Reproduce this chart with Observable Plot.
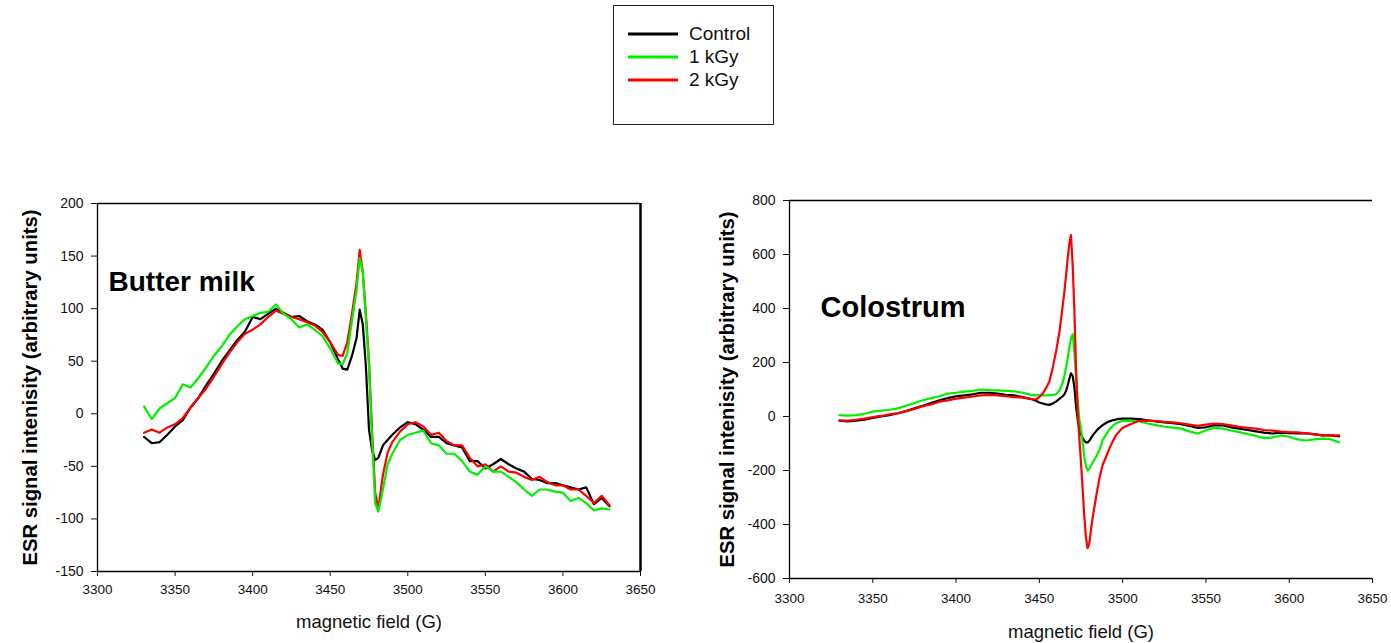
<!DOCTYPE html>
<html><head><meta charset="utf-8">
<script src="https://cdn.jsdelivr.net/npm/d3@7"></script>
<script src="https://cdn.jsdelivr.net/npm/@observablehq/plot@0.6"></script>
<style>
body{margin:0;background:#fff;width:1391px;height:643px;position:relative;overflow:hidden;font-family:"Liberation Sans",Arial,sans-serif;}
#legend{position:absolute;left:613px;top:5px;width:161px;height:120px;border:1px solid #222;box-sizing:border-box;}
.row{position:absolute;left:14px;height:20px;display:flex;align-items:center;font-size:19px;color:#111;}
.row svg{margin-right:11px;}
#left{position:absolute;left:0;top:190px;}
#right{position:absolute;left:700px;top:190px;}
</style></head><body>
<div id="legend"></div>
<div id="left"></div>
<div id="right"></div>
<script>
// ---- series names / colours ----
const seriesNames = ["Control", "1 kGy", "2 kGy"];
const seriesColors = ["#000000", "#00f000", "#ff0000"];

// ---- tick labels ----
const xTicks = [3300, 3350, 3400, 3450, 3500, 3550, 3600, 3650];
const yTicksButter = [-150, -100, -50, 0, 50, 100, 150, 200];
const yTicksColostrum = [-600, -400, -200, 0, 200, 400, 600, 800];
const xTitle = "magnetic field (G)";
const yTitle = "ESR signal intenisity (arbitrary units)";

// ---- Butter milk ----
const fieldButter = [3330,3335,3340,3345,3350,3355,3360,3365,3370,3375,3380,3385,3390,3395,3400,3405,3410,3415,3420,3425,3430,3435,3440,3445,3450,3455,
  3458,3461,3464,3467,3469,3471,3473,3475,3477,3479,3481,3484,3487,
  3490,3495,3500,3505,3510,3515,3520,3525,3530,3535,3540,3545,3550,3555,3560,3565,3570,3575,3580,3585,3590,3595,3600,3605,3610,3615,3620,3625,3630];
const butterControl = [-22,-28,-27,-20,-12,-6,6,15,27,38,50,60,70,78,92,90,95,100,96,92,93,88,85,80,68,52,
  43,42,55,72,99,85,45,-15,-35,-44,-42,-30,-25,
  -20,-13,-8,-10,-15,-22,-22,-28,-30,-32,-45,-45,-52,-48,-43,-48,-52,-55,-62,-63,-66,-66,-68,-70,-72,-70,-86,-80,-88];
const butter1kGy = [7,-5,5,10,15,28,25,34,44,55,64,75,83,90,93,96,97,104,95,90,82,85,80,74,62,48,
  47,58,88,118,148,135,90,45,-25,-85,-93,-72,-48,
  -38,-25,-20,-18,-16,-28,-30,-38,-38,-45,-55,-58,-50,-55,-55,-60,-65,-72,-78,-72,-72,-74,-75,-83,-80,-85,-92,-90,-91];
const butter2kGy = [-18,-15,-18,-13,-10,-4,6,15,24,35,47,58,68,76,80,85,92,98,95,92,90,87,84,78,68,56,
  55,68,95,125,156,135,95,50,-17,-75,-90,-58,-37,
  -27,-17,-10,-8,-12,-20,-18,-26,-30,-30,-42,-50,-48,-55,-50,-55,-56,-60,-63,-60,-65,-68,-68,-72,-72,-78,-85,-78,-87];

// ---- Colostrum ----
const fieldColostrum = [3330,3335,3340,3345,3350,3355,3360,3365,3370,3375,3380,3385,3390,3395,3400,3405,3410,3415,3420,3425,3430,3435,3440,3445,
  3448,3450,3452,3454,3456,3458,3460,3462,3464,
  3465,3466,3467,3468,3469,3470,3471,3472,3473,3474,3475,3476,3477,3478,3479,3480,3481,3482,
  3484,3486,3488,3490,3492,3494,3496,3498,3500,
  3505,3510,3515,3520,3525,3530,3535,3540,3545,3550,3555,3560,3565,3570,3575,3580,3585,3590,3595,3600,3605,3610,3615,3620,3625,3630];
const colostrumControl = [-15,-18,-15,-12,-5,0,5,12,20,30,40,50,60,68,75,78,82,88,88,85,80,78,72,65,
  58,52,48,45,43,48,55,65,75,
  82,95,115,140,160,150,110,40,-10,-45,-65,-80,-90,-96,-96,-90,-80,-70,
  -55,-42,-32,-24,-18,-14,-11,-9,-8,
  -8,-10,-14,-18,-22,-25,-28,-35,-42,-40,-32,-33,-40,-45,-50,-55,-60,-63,-60,-62,-63,-62,-66,-70,-70,-74];
const colostrum1kGy = [5,3,5,10,18,22,25,30,40,50,60,68,75,85,88,92,95,100,98,97,95,93,88,80,
  78,78,78,78,79,80,82,95,125,
  150,180,215,255,290,305,240,150,60,-10,-45,-100,-150,-185,-200,-195,-182,-170,
  -150,-125,-88,-68,-48,-35,-25,-20,-16,
  -15,-18,-26,-32,-38,-41,-45,-55,-63,-52,-41,-45,-52,-58,-65,-72,-80,-78,-70,-75,-85,-89,-85,-82,-84,-96];
const colostrum2kGy = [-15,-15,-12,-8,-2,2,8,12,20,28,38,45,55,60,66,70,74,78,80,78,75,72,70,65,
  63,72,85,105,130,180,240,310,410,
  461,520,585,640,672,560,400,180,20,-80,-170,-270,-370,-450,-488,-470,-420,-375,
  -300,-230,-180,-150,-120,-92,-70,-55,-42,
  -28,-16,-15,-17,-20,-22,-25,-30,-35,-30,-26,-28,-33,-38,-42,-45,-50,-52,-56,-58,-59,-62,-65,-70,-70,-70];

function rows(fields, values, name) {
  return fields.map((f, i) => ({field: f, value: values[i], series: name}));
}

const fmt = d => String(d);
const font = '"Liberation Sans", Arial, sans-serif';

function chart({fields, series, order, yTicks, title, w, h, m, titleDx, titleDy, titleSize, xTitleDy, yTitleDx, xPad, fullBox}) {
  const xDom = [xTicks[0], xTicks[xTicks.length - 1]];
  const yDom = [yTicks[0], yTicks[yTicks.length - 1]];
  const marks = [];
  for (const k of order) {
    marks.push(Plot.line(rows(fields, series[k], seriesNames[k]), {
      x: "field", y: "value", stroke: seriesColors[k], strokeWidth: 2.2, strokeLinejoin: "round"
    }));
  }
  marks.push(Plot.ruleX([xDom[0]], {stroke: "#000", strokeWidth: 1.3}));
  marks.push(Plot.ruleY([yDom[0]], {stroke: "#000", strokeWidth: 1.3}));
  marks.push(Plot.ruleY([yDom[1]], {stroke: "#000", strokeWidth: 1.3}));
  if (fullBox) marks.push(Plot.ruleX([xDom[1]], {stroke: "#000", strokeWidth: 2.5}));
  marks.push(Plot.axisX({ticks: xTicks, tickFormat: fmt, tickSize: 5, tickPadding: xPad, label: null, fontSize: 13.5}));
  marks.push(Plot.axisY({ticks: yTicks, tickFormat: fmt, tickSize: 6, tickPadding: 8, label: null, fontSize: 14}));
  marks.push(Plot.text([title], {text: d => d, frameAnchor: "top-left", textAnchor: "start", lineAnchor: "top",
    dx: titleDx, dy: titleDy, fontSize: titleSize, fontWeight: "bold", fill: "#000"}));
  marks.push(Plot.text([xTitle], {text: d => d, frameAnchor: "bottom", textAnchor: "middle", lineAnchor: "middle",
    dy: xTitleDy, fontSize: 18.5, fill: "#111"}));
  marks.push(Plot.text([yTitle], {text: d => d, frameAnchor: "left", textAnchor: "middle", lineAnchor: "middle",
    rotate: -90, dx: yTitleDx, fontSize: 20.3, fontWeight: "bold", fill: "#000"}));
  return Plot.plot({
    width: w, height: h,
    marginLeft: m[0], marginRight: m[1], marginTop: m[2], marginBottom: m[3],
    x: {domain: xDom},
    y: {domain: yDom},
    style: {fontFamily: font, color: "#111", background: "#fff", overflow: "visible"},
    marks
  });
}

document.getElementById("left").append(chart({
  fields: fieldButter,
  series: [butterControl, butter1kGy, butter2kGy],
  order: [0, 2, 1],
  yTicks: yTicksButter,
  title: "Butter milk",
  w: 660, h: 453, m: [97, 20, 13, 72],
  titleDx: 11, titleDy: 68, titleSize: 28, xTitleDy: 51, yTitleDx: -67, xPad: 8, fullBox: true
}));

document.getElementById("right").append(chart({
  fields: fieldColostrum,
  series: [colostrumControl, colostrum1kGy, colostrum2kGy],
  order: [0, 1, 2],
  yTicks: yTicksColostrum,
  title: "Colostrum",
  w: 691, h: 453, m: [89, 19, 10, 65],
  titleDx: 31, titleDy: 96, titleSize: 29, xTitleDy: 54, yTitleDx: -62, xPad: 10, fullBox: false
}));

// ---- legend ----
const legend = document.getElementById("legend");
const rowTops = [18, 41, 64];
seriesNames.forEach((name, i) => {
  const r = document.createElement("div");
  r.className = "row";
  r.style.top = rowTops[i] + "px";
  r.innerHTML = `<svg width="50" height="6"><line x1="0" x2="50" y1="3" y2="3" stroke="${seriesColors[i]}" stroke-width="3"/></svg><span>${name}</span>`;
  legend.append(r);
});
</script>
</body></html>
